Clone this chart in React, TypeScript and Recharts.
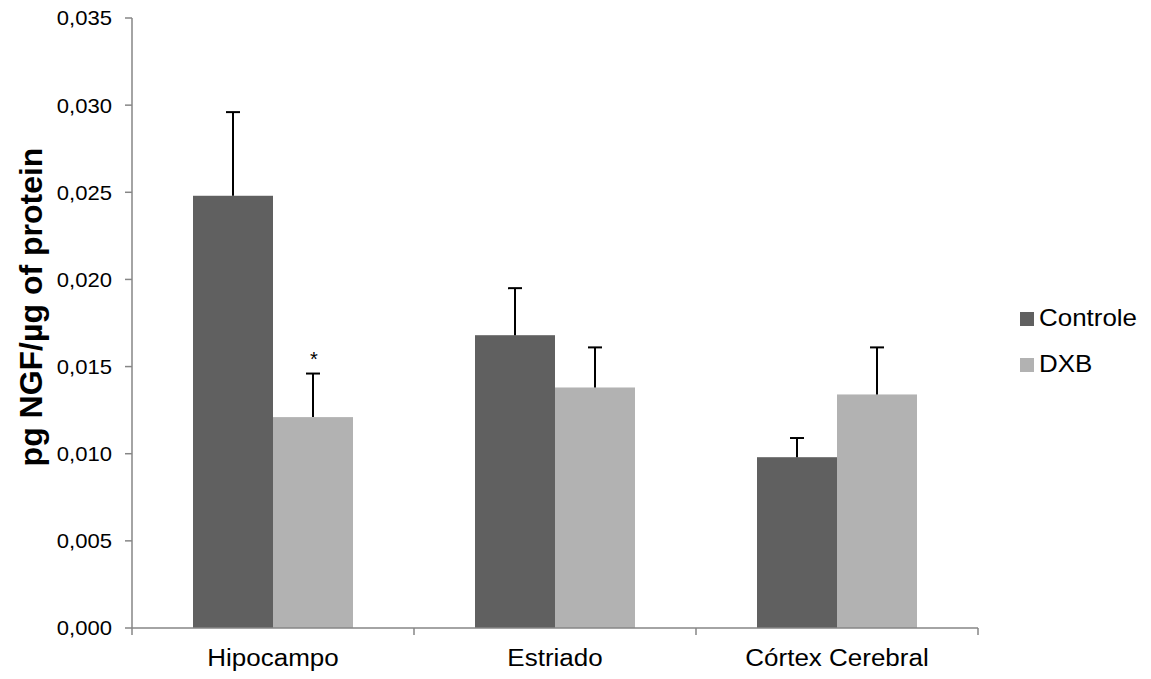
import { BarChart, Bar, XAxis, YAxis, Legend } from "recharts";

const categories = ["Hipocampo", "Estriado", "Córtex Cerebral"];
const controle = [0.0248, 0.0168, 0.0098];
const controleErr = [0.0048, 0.0027, 0.0011];
const dxb = [0.0121, 0.0138, 0.0134];
const dxbErr = [0.0025, 0.0023, 0.0027];
const marks = ["*", "", ""];
const yTicks = [0, 0.005, 0.01, 0.015, 0.02, 0.025, 0.03, 0.035];

const data = categories.map((name, i) => ({
  name,
  controle: controle[i],
  controleErr: controleErr[i],
  dxb: dxb[i],
  dxbErr: dxbErr[i],
  mark: marks[i],
}));

const FONT = "'Liberation Sans', Arial, sans-serif";
const AXIS = "#868686";
const DARK = "#606060";
const LIGHT = "#b2b2b2";
// reference text is a bit wider than Arial at the same height
const STRETCH = 1.13;

// bar + one-sided (upper) error whisker, scaled from the bar's own px/value ratio
const barWithError = (valueKey: string, errKey: string, showMark: boolean) => (props: any) => {
  const { x, y, width, height, fill, payload } = props;
  const value = payload[valueKey];
  const errPx = value ? (payload[errKey] * height) / value : 0;
  const cx = x + width / 2;
  const top = y - errPx;
  return (
    <g>
      <rect x={x} y={y} width={width} height={height} fill={fill} />
      <line x1={cx} x2={cx} y1={y} y2={top} stroke="#000" strokeWidth={2} />
      <line x1={cx - 7} x2={cx + 7} y1={top} y2={top} stroke="#000" strokeWidth={2} />
      {showMark && payload.mark ? (
        <text x={cx + 1} y={top - 8} textAnchor="middle" fontSize={20} fontFamily={FONT} fill="#000">
          {payload.mark}
        </text>
      ) : null}
    </g>
  );
};

const CategoryTick = (props: any) => {
  const { x, y, payload, index } = props;
  const half = payload.offset ?? 0;
  return (
    <g>
      <text
        x={x}
        y={y + 38}
        textAnchor="middle"
        fontSize={23}
        fontFamily={FONT}
        fill="#000"
        transform={`translate(${x} 0) scale(${STRETCH} 1) translate(${-x} 0)`}
      >
        {payload.value}
      </text>
      <line x1={x + half} x2={x + half} y1={y} y2={y + 7} stroke={AXIS} strokeWidth={1.5} />
      {index === 0 && <line x1={x - half} x2={x - half} y1={y} y2={y + 7} stroke={AXIS} strokeWidth={1.5} />}
    </g>
  );
};

const ValueTick = (props: any) => {
  const { x, y, payload } = props;
  const label = payload.value.toFixed(3).replace(".", ",");
  return (
    <text
      x={x}
      y={y}
      dy="0.355em"
      textAnchor="end"
      fontSize={21}
      fontFamily={FONT}
      fill="#000"
      transform={`translate(${x} 0) scale(1.05 1) translate(${-x} 0)`}
    >
      {label}
    </text>
  );
};

const YTitle = (props: any) => {
  const vb = props.viewBox;
  const cy = vb.y + vb.height / 2 - 16;
  return (
    <text
      x={42}
      y={cy}
      transform={`rotate(-90 42 ${cy})`}
      textAnchor="middle"
      fontSize={32}
      fontWeight="bold"
      fontFamily={FONT}
      fill="#000"
    >
      pg NGF/µg of protein
    </text>
  );
};

const LegendBox = () => (
  <div style={{ fontFamily: FONT, fontSize: 24, color: "#000" }}>
    {[
      { label: "Controle", color: DARK },
      { label: "DXB", color: LIGHT },
    ].map((e) => (
      <div key={e.label} style={{ display: "flex", alignItems: "center", height: 46, lineHeight: "46px" }}>
        <span style={{ display: "inline-block", width: 14, height: 14, background: e.color, marginRight: 5, marginTop: 2 }} />
        <span style={{ display: "inline-block", transform: "scaleX(1.08)", transformOrigin: "left center" }}>
          {e.label}
        </span>
      </div>
    ))}
  </div>
);

export default function App() {
  return (
    <div style={{ position: "absolute", left: 0, top: 0, background: "#fff" }}>
      <BarChart
        width={1151}
        height={679}
        data={data}
        margin={{ top: 18, right: 173, bottom: 0, left: 0 }}
        barCategoryGap={61}
        barGap={0}
      >
        <XAxis
          dataKey="name"
          height={51}
          interval={0}
          tickLine={false}
          tickSize={0}
          tickMargin={0}
          tick={<CategoryTick />}
          axisLine={{ stroke: AXIS, strokeWidth: 1.5 }}
        />
        <YAxis
          width={132}
          domain={[0, 0.035]}
          ticks={yTicks}
          interval={0}
          tick={<ValueTick />}
          tickSize={7}
          tickMargin={13}
          tickLine={{ stroke: AXIS, strokeWidth: 1.5 }}
          axisLine={{ stroke: AXIS, strokeWidth: 1.5 }}
          label={{ content: <YTitle /> }}
        />
        <Legend
          layout="vertical"
          verticalAlign="middle"
          align="center"
          wrapperStyle={{ left: 1020, top: 295, width: 131 }}
          content={<LegendBox />}
        />
        <Bar
          dataKey="controle"
          name="Controle"
          fill={DARK}
          isAnimationActive={false}
          shape={barWithError("controle", "controleErr", false)}
        />
        <Bar
          dataKey="dxb"
          name="DXB"
          fill={LIGHT}
          isAnimationActive={false}
          shape={barWithError("dxb", "dxbErr", true)}
        />
      </BarChart>
    </div>
  );
}
